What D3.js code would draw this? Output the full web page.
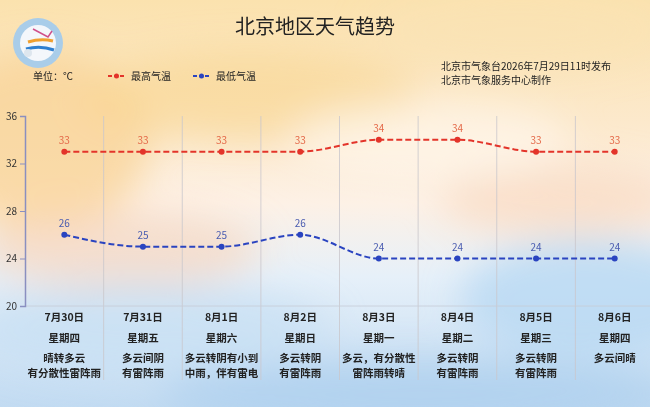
<!DOCTYPE html>
<html>
<head>
<meta charset="utf-8">
<script src="https://cdn.jsdelivr.net/npm/d3@7"></script>
<style>
  html, body { margin: 0; padding: 0; }
  body { width: 650px; height: 407px; overflow: hidden; }
  text { font-family: "Noto Sans CJK SC", "Noto Sans", sans-serif; }
</style>
</head>
<body>
<svg id="chart" width="650" height="407"></svg>
<script>
// data
var dates = ["7月30日", "7月31日", "8月1日", "8月2日", "8月3日", "8月4日", "8月5日", "8月6日"];
var weekdays = ["星期四", "星期五", "星期六", "星期日", "星期一", "星期二", "星期三", "星期四"];
var weather = [
  ["晴转多云", "有分散性雷阵雨"],
  ["多云间阴", "有雷阵雨"],
  ["多云转阴有小到", "中雨，伴有雷电"],
  ["多云转阴", "有雷阵雨"],
  ["多云，有分散性", "雷阵雨转晴"],
  ["多云转阴", "有雷阵雨"],
  ["多云转阴", "有雷阵雨"],
  ["多云间晴"]
];
var highTemps = [33, 33, 33, 33, 34, 34, 33, 33];
var lowTemps = [26, 25, 25, 26, 24, 24, 24, 24];
var yTicks = [20, 24, 28, 32, 36];

var svg = d3.select("#chart");
var defs = svg.append("defs");

// background wash
var bg = defs.append("linearGradient").attr("id", "bg").attr("x1", 0).attr("y1", 0).attr("x2", 0).attr("y2", 1);
bg.append("stop").attr("offset", "0%").attr("stop-color", "#fbe2ae");
bg.append("stop").attr("offset", "30%").attr("stop-color", "#fce9cc");
bg.append("stop").attr("offset", "50%").attr("stop-color", "#fdf1e6");
bg.append("stop").attr("offset", "68%").attr("stop-color", "#e6f0f9");
bg.append("stop").attr("offset", "100%").attr("stop-color", "#c2dbf2");
svg.append("rect").attr("width", 650).attr("height", 407).attr("fill", "url(#bg)");

var blur = defs.append("filter").attr("id", "blur").attr("x", "-50%").attr("y", "-50%").attr("width", "200%").attr("height", "200%");
blur.append("feGaussianBlur").attr("stdDeviation", 18);

var wash = svg.append("g").attr("filter", "url(#blur)");
wash.append("ellipse").attr("cx", 40).attr("cy", 140).attr("rx", 110).attr("ry", 90).attr("fill", "#f8d396").attr("opacity", 0.75);
wash.append("ellipse").attr("cx", 250).attr("cy", 95).attr("rx", 170).attr("ry", 45).attr("fill", "#f8d690").attr("opacity", 0.6);
wash.append("ellipse").attr("cx", 520).attr("cy", 30).attr("rx", 150).attr("ry", 40).attr("fill", "#fae2b4").attr("opacity", 0.6);
wash.append("ellipse").attr("cx", 120).attr("cy", 250).attr("rx", 140).attr("ry", 40).attr("fill", "#f8d2b8").attr("opacity", 0.6);
wash.append("ellipse").attr("cx", 560).attr("cy", 200).attr("rx", 120).attr("ry", 35).attr("fill", "#f8d8c0").attr("opacity", 0.7);
wash.append("ellipse").attr("cx", 590).attr("cy", 300).attr("rx", 130).attr("ry", 60).attr("fill", "#b8d8f2").attr("opacity", 0.8);
wash.append("ellipse").attr("cx", 150).attr("cy", 330).attr("rx", 180).attr("ry", 45).attr("fill", "#c8e0f4").attr("opacity", 0.8);
wash.append("ellipse").attr("cx", 420).attr("cy", 395).attr("rx", 260).attr("ry", 35).attr("fill", "#aed0ee").attr("opacity", 0.8);
wash.append("ellipse").attr("cx", 430).attr("cy", 140).attr("rx", 140).attr("ry", 40).attr("fill", "#fff8f0").attr("opacity", 0.6);

// logo
var logo = svg.append("g").attr("transform", "translate(38,43)");
logo.append("circle").attr("r", 25).attr("fill", "#a9cde9");
logo.append("circle").attr("r", 18).attr("fill", "#f4f7fb");
logo.append("path").attr("d", "M-12,6 Q2,2 16,7").attr("stroke", "#2e7fd0").attr("stroke-width", 3).attr("fill", "none");
logo.append("path").attr("d", "M-10,-1 Q3,-5 15,-2").attr("stroke", "#f0a030").attr("stroke-width", 3).attr("fill", "none");
logo.append("path").attr("d", "M-5,-14 L10,-6 L14,-12").attr("stroke", "#d0508a").attr("stroke-width", 1.5).attr("fill", "none");
logo.append("circle").attr("cx", -10).attr("cy", 10).attr("r", 4).attr("fill", "#dde6ee");

// header text
svg.append("text").attr("x", 315).attr("y", 34).attr("text-anchor", "middle")
  .attr("font-size", 20).attr("fill", "#222").text("北京地区天气趋势");
svg.append("text").attr("x", 33).attr("y", 80).attr("font-size", 10).attr("fill", "#222").text("单位：℃");
svg.append("text").attr("x", 441).attr("y", 70).attr("font-size", 10).attr("fill", "#222").text("北京市气象台2026年7月29日11时发布");
svg.append("text").attr("x", 441).attr("y", 84).attr("font-size", 10).attr("fill", "#222").text("北京市气象服务中心制作");

var legendItems = [
  { name: "最高气温", color: "#e3342a", x: 108 },
  { name: "最低气温", color: "#2a44c0", x: 193 }
];
var lg = svg.selectAll(".legend").data(legendItems).enter().append("g")
  .attr("transform", function(d) { return "translate(" + d.x + ",76)"; });
lg.append("line").attr("x1", 0).attr("x2", 17).attr("stroke", function(d) { return d.color; })
  .attr("stroke-width", 2).attr("stroke-dasharray", "4,2");
lg.append("circle").attr("cx", 8.5).attr("r", 2.5).attr("fill", function(d) { return d.color; });
lg.append("text").attr("x", 23).attr("y", 4).attr("font-size", 10).attr("fill", "#222").text(function(d) { return d.name; });

// scales
var x = d3.scaleBand().domain(dates).range([25, 654]);
var y = d3.scaleLinear().domain([20, 36]).range([306, 116]);
var cx = function(i) { return x(dates[i]) + x.bandwidth() / 2; };

// column dividers
svg.append("g").selectAll("line").data(dates.slice(1)).enter().append("line")
  .attr("x1", function(d) { return x(d); }).attr("x2", function(d) { return x(d); })
  .attr("y1", 116).attr("y2", 380)
  .attr("stroke", "#c9c6cc").attr("stroke-width", 0.8);

// baseline
svg.append("line").attr("x1", 25).attr("x2", 650).attr("y1", y(20)).attr("y2", y(20))
  .attr("stroke", "#c6cbd6").attr("stroke-width", 0.8);

// y axis
var yAxis = svg.append("g").attr("transform", "translate(25,0)")
  .call(d3.axisLeft(y).tickValues(yTicks).tickSize(5).tickPadding(3).tickFormat(d3.format("d")));
yAxis.select(".domain").attr("stroke", "#8a8fc0").attr("stroke-width", 1.5);
yAxis.selectAll(".tick line").attr("stroke", "#8a8fc0");
yAxis.selectAll(".tick text").attr("font-size", 10).attr("fill", "#333")
  .attr("font-family", "'Liberation Sans', Arial, sans-serif");

// lines
var series = [
  { values: highTemps, color: "#e3342a", label: "#e46a4a", dy: -8 },
  { values: lowTemps, color: "#2a44c0", label: "#4a5cb0", dy: -8 }
];
var line = d3.line()
  .x(function(d, i) { return cx(i); })
  .y(function(d) { return y(d); })
  .curve(d3.curveMonotoneX);

series.forEach(function(s) {
  var g = svg.append("g");
  g.append("path").attr("d", line(s.values)).attr("fill", "none")
    .attr("stroke", s.color).attr("stroke-width", 2).attr("stroke-dasharray", "6,3");
  g.selectAll("circle").data(s.values).enter().append("circle")
    .attr("cx", function(d, i) { return cx(i); }).attr("cy", function(d) { return y(d); })
    .attr("r", 3).attr("fill", s.color);
  g.selectAll("text").data(s.values).enter().append("text")
    .attr("x", function(d, i) { return cx(i); }).attr("y", function(d) { return y(d) + s.dy; })
    .attr("text-anchor", "middle").attr("font-size", 10).attr("fill", s.label)
    .attr("font-family", "'Liberation Sans', Arial, sans-serif")
    .text(function(d) { return d; });
});

// bottom labels
var cols = svg.append("g").selectAll("g").data(dates).enter().append("g")
  .attr("transform", function(d, i) { return "translate(" + cx(i) + ",0)"; });
cols.append("text").attr("y", 321).attr("text-anchor", "middle").attr("font-size", 10.5)
  .attr("font-weight", "bold").attr("fill", "#222").text(function(d) { return d; });
cols.append("text").attr("y", 342).attr("text-anchor", "middle").attr("font-size", 10.5)
  .attr("font-weight", "bold").attr("fill", "#222").text(function(d, i) { return weekdays[i]; });
cols.each(function(d, i) {
  d3.select(this).selectAll(".w").data(weather[i]).enter().append("text")
    .attr("y", function(t, j) { return 362 + j * 14.5; })
    .attr("text-anchor", "middle").attr("font-size", 10.5).attr("font-weight", "bold")
    .attr("fill", "#222").text(function(t) { return t; });
});
</script>
</body>
</html>
